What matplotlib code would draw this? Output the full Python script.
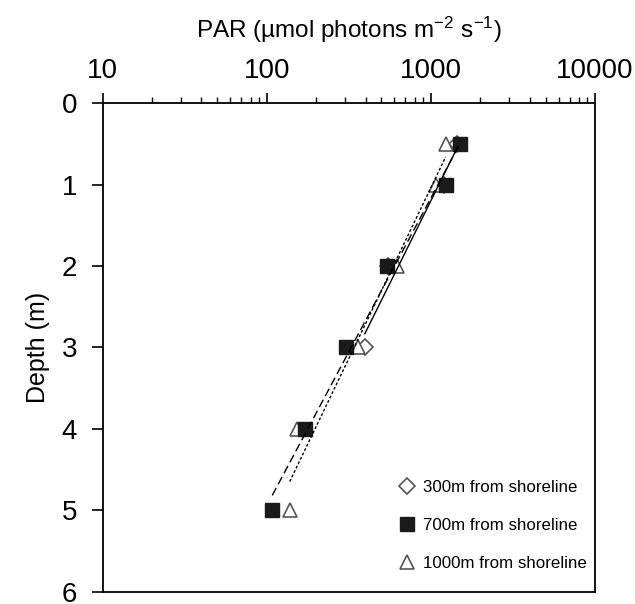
import numpy as np
import matplotlib
matplotlib.use("Agg")
import matplotlib.pyplot as plt
from matplotlib.ticker import LogLocator, FixedLocator, NullFormatter

plt.rcParams["font.family"] = ["Liberation Sans", "DejaVu Sans"]
plt.rcParams["mathtext.fontset"] = "custom"
plt.rcParams["mathtext.rm"] = "Liberation Sans"
plt.rcParams["mathtext.default"] = "regular"

# PAR readings at each depth, three stations
depth_300 = [0.5, 1, 2, 3]
par_300 = [1450, 1200, 550, 396]

depth_700 = [0.5, 1, 2, 3, 4, 5]
par_700 = [1503, 1231, 538, 303, 171, 108]

depth_1000 = [0.5, 1, 2, 3, 4, 5]
par_1000 = [1231, 1070, 618, 358, 153, 138]

x_ticks = [10, 100, 1000, 10000]
y_ticks = [0, 1, 2, 3, 4, 5, 6]


def trend(par, depth):
    # logarithmic trendline: depth = a*ln(PAR) + b, over the data range
    a, b = np.polyfit(np.log(par), depth, 1)
    xs = np.logspace(np.log10(min(par)), np.log10(max(par)), 50)
    return xs, a * np.log(xs) + b


fig = plt.figure(figsize=(6.35, 6.04), dpi=100)
ax = fig.add_axes([0.1617, 0.0204, 0.7753, 0.8086])

ax.plot(par_300, depth_300, linestyle="none", marker="D", markersize=8.2,
        markerfacecolor="white", markeredgecolor="#555555", markeredgewidth=1.2,
        label="300m from shoreline", zorder=3)
ax.plot(par_1000, depth_1000, linestyle="none", marker="^", markersize=10.5,
        markerfacecolor="white", markeredgecolor="#555555", markeredgewidth=1.2,
        label="1000m from shoreline", zorder=4)
ax.plot(par_700, depth_700, linestyle="none", marker="s", markersize=10.5,
        markerfacecolor="#1a1a1a", markeredgecolor="#1a1a1a",
        label="700m from shoreline", zorder=5)

xs, ys = trend(par_300, depth_300)
ax.plot(xs, ys, color="black", linewidth=1.0, linestyle="-", zorder=6)
xs, ys = trend(par_700, depth_700)
ax.plot(xs, ys, color="black", linewidth=1.0, linestyle=(0, (6, 3)), zorder=6)
xs, ys = trend(par_1000, depth_1000)
ax.plot(xs, ys, color="black", linewidth=1.0, linestyle=(0, (2, 1.5)), zorder=6)

ax.set_xscale("log")
ax.set_xlim(10, 10000)
ax.set_ylim(6, 0)
ax.xaxis.set_ticks_position("top")
ax.xaxis.set_label_position("top")
ax.xaxis.set_major_locator(FixedLocator(x_ticks))
ax.set_xticklabels([str(t) for t in x_ticks])
ax.xaxis.set_minor_locator(LogLocator(base=10, subs=np.arange(2, 10)))
ax.xaxis.set_minor_formatter(NullFormatter())
ax.set_yticks(y_ticks)

ax.tick_params(axis="x", which="major", direction="out", length=7, width=1.2,
               labelsize=20, pad=7)
ax.tick_params(axis="x", which="minor", direction="out", length=4, width=1.0)
ax.tick_params(axis="y", direction="out", length=8, width=1.2, labelsize=20, pad=10.5)
for s in ax.spines.values():
    s.set_linewidth(1.3)

ax.set_xlabel(r"PAR (µmol photons m$^{-2}$ s$^{-1}$)", fontsize=17.5, labelpad=14)
ax.set_ylabel("Depth (m)", fontsize=18, labelpad=8)

handles, labels = ax.get_legend_handles_labels()
order = [0, 2, 1]
ax.legend([handles[i] for i in order], [labels[i] for i in order],
          loc="lower right", bbox_to_anchor=(1.0, 0.025), frameon=False,
          fontsize=12.2, handlelength=1.0, handletextpad=0.4, labelspacing=1.35,
          borderaxespad=0.1)

fig.savefig("out.png", dpi=100)
